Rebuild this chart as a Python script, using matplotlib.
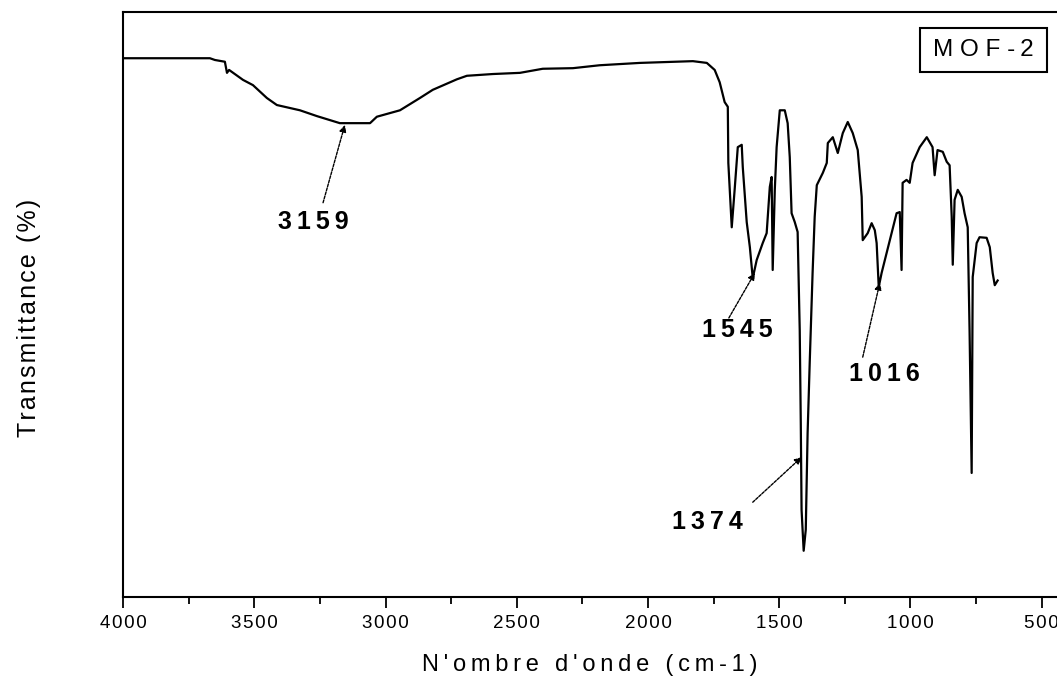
import matplotlib
matplotlib.use("Agg")
import matplotlib.pyplot as plt
from matplotlib.ticker import MultipleLocator, FuncFormatter
from matplotlib.patches import Rectangle

# FTIR spectrum of MOF-2
wavenumber = [4000, 3669, 3650, 3612, 3604, 3596, 3543, 3505, 3452, 3414, 3326, 3261,
              3174, 3059, 3033, 2945, 2869, 2820, 2728, 2690, 2591, 2488, 2401, 2286,
              2184, 2031, 1829, 1776, 1746, 1727, 1708, 1696, 1694, 1681, 1670, 1658,
              1643, 1639, 1624, 1612, 1601, 1586, 1563, 1548, 1536, 1529, 1525, 1517,
              1510, 1498, 1479, 1468, 1460, 1453, 1441, 1430, 1422, 1418, 1415, 1407,
              1399, 1392, 1384, 1373, 1365, 1357, 1334, 1319, 1315, 1296, 1277, 1258,
              1239, 1220, 1201, 1186, 1182, 1163, 1148, 1136, 1129, 1121, 1110, 1091,
              1072, 1053, 1041, 1034, 1030, 1015, 1003, 992, 965, 938, 916, 908, 897,
              877, 862, 851, 843, 839, 832, 820, 805, 794, 782, 775, 767, 763, 748,
              737, 710, 698, 687, 679, 668]
transmittance = [92.1, 92.1, 91.8, 91.5, 89.6, 90.1, 88.4, 87.5, 85.3, 84.1, 83.2, 82.2,
                 81.0, 81.0, 82.1, 83.2, 85.3, 86.7, 88.5, 89.1, 89.4, 89.6, 90.3, 90.4,
                 90.9, 91.3, 91.6, 91.3, 90.1, 88.0, 84.6, 83.8, 74.2, 63.2, 69.6, 76.9,
                 77.3, 73.5, 64.1, 59.8, 54.5, 57.6, 60.5, 62.2, 70.1, 71.8, 55.9, 69.6,
                 76.9, 83.2, 83.2, 81.0, 75.2, 65.6, 64.1, 62.4, 45.6, 29.7, 14.9, 7.9,
                 11.5, 28.0, 40.0, 55.4, 65.0, 70.4, 72.5, 74.2, 77.6, 78.6, 75.9, 79.3,
                 81.2, 79.3, 76.4, 68.4, 61.0, 62.2, 63.9, 62.7, 60.5, 53.0, 55.4, 58.8,
                 62.2, 65.6, 65.8, 55.9, 70.8, 71.3, 70.8, 74.2, 76.9, 78.6, 76.9, 72.1, 76.4,
                 76.1, 74.4, 73.8, 65.0, 56.8, 67.9, 69.6, 68.4, 65.6, 63.2, 45.6, 21.2, 54.7, 60.5,
                 61.5, 61.4, 59.8, 55.4, 53.3, 54.1]

peak_labels = ["3159", "1545", "1374", "1016"]
label_pos = [(3276, 64.1), (1658, 45.6), (1772, 12.8), (1098, 38.1)]
arrow_tail = [(3238, 67.4), (1692, 47.7), (1601, 16.2), (1182, 41.0)]
arrow_head = [(3155, 80.7), (1593, 55.4), (1415, 23.9), (1117, 53.7)]

plt.rcParams['font.family'] = ['Liberation Sans', 'DejaVu Sans']

THIN = '\u2009'
HAIR = '\u200a'


def spaced(s, sep=THIN):
    # the original text is drawn letter-spaced
    return sep.join(s)


fig = plt.figure(figsize=(10.57, 6.79), dpi=100)
ax = fig.add_axes([0.1164, 0.1208, 0.894, 0.8615])

ax.plot(wavenumber, transmittance, color='black', lw=1.6)

ax.set_xlim(4000, 400)
ax.set_ylim(0, 100)
ax.xaxis.set_major_locator(MultipleLocator(500))
ax.xaxis.set_minor_locator(MultipleLocator(250))
ax.xaxis.set_major_formatter(FuncFormatter(lambda v, p: spaced(str(int(v)), HAIR)))
ax.tick_params(axis='x', which='major', direction='out', length=8, width=1.3,
               labelsize=13.5, pad=5)
ax.tick_params(axis='x', which='minor', direction='out', length=5, width=1.3)
ax.set_yticks([])
for s in ax.spines.values():
    s.set_linewidth(1.5)

ax.set_xlabel(spaced("N'ombre d'onde (cm-1)"), fontsize=17, va='center')
ax.xaxis.set_label_coords(0.4942, -0.116)
ax.set_ylabel(spaced("Transmittance (%)", HAIR), fontsize=18, va='center')
ax.yaxis.set_label_coords(-0.0995, 0.477)

for lab, tp, tail, head in zip(peak_labels, label_pos, arrow_tail, arrow_head):
    ax.annotate("", xy=head, xytext=tail,
                arrowprops=dict(arrowstyle='-|>', color='black', lw=1.0,
                                linestyle=(0, (2, 1)), mutation_scale=10,
                                shrinkA=0, shrinkB=0))
    ax.text(tp[0], tp[1], spaced(lab), fontsize=18, fontweight='bold',
            ha='center', va='center')

ax.add_patch(Rectangle((0.8434, 0.8974), 0.1344, 0.0752, transform=ax.transAxes,
                       fc='white', ec='black', lw=1.5, zorder=5))
ax.text(0.9106, 0.935, "M O F -" + THIN + "2", transform=ax.transAxes,
        fontsize=17.5, ha='center', va='center', zorder=6)

fig.savefig('out.png', dpi=100)
